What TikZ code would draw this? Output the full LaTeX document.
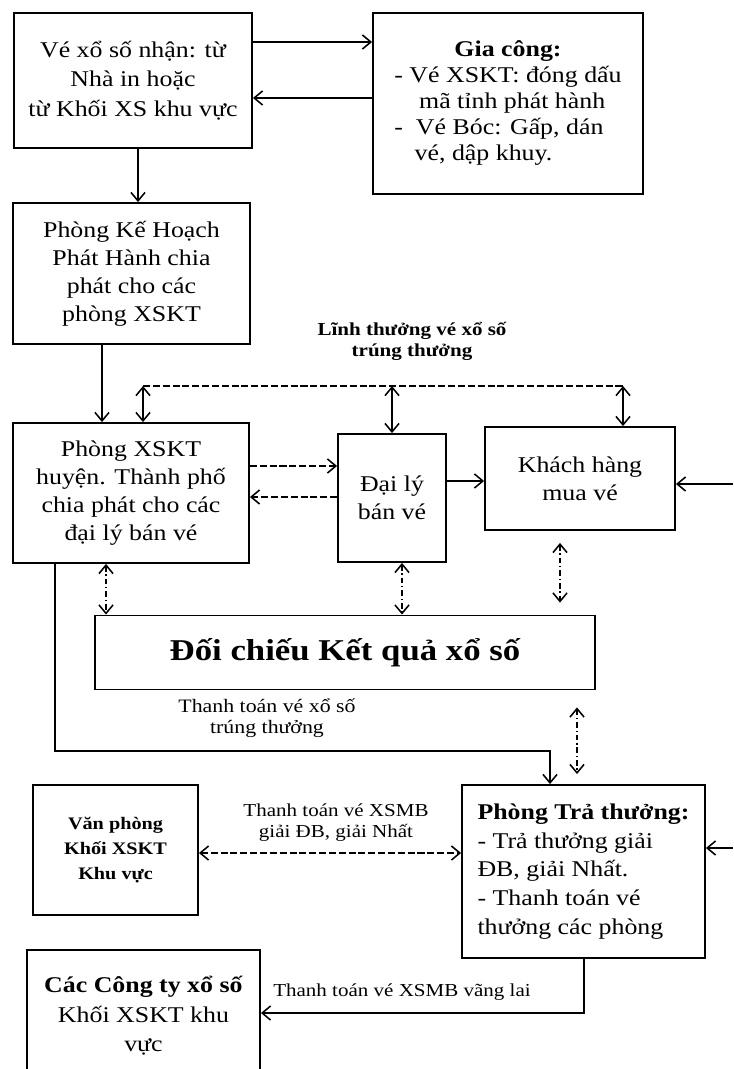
\documentclass[tikz,border=0pt]{standalone}
\usepackage{fontspec}
\setmainfont[FakeStretch=1.15]{Liberation Serif}
\usetikzlibrary{arrows.meta}

\begin{document}
\begin{tikzpicture}[
  x=0.025cm, y=-0.025cm,
  box/.style={draw, line width=1.3pt, align=center, inner sep=2pt,
    font=\fontsize{16}{20}\selectfont},
  lbl/.style={align=center, font=\fontsize{13}{15}\selectfont},
  arr/.style={-{Straight Barb[length=6pt,width=10pt]}, line width=1.1pt},
  dbl/.style={{Straight Barb[length=6pt,width=10pt]}-{Straight Barb[length=6pt,width=10pt]},
    line width=1.1pt},
  dsh/.style={dash pattern=on 5pt off 2pt},
  dd/.style={dash pattern=on 4pt off 2pt on 1pt off 2pt}
]
  \useasboundingbox (0,0) rectangle (733,1069);

  % receiving and processing (top)
  \node[box, minimum width=5.95cm, minimum height=3.375cm,
    font=\fontsize{16}{21}\selectfont] (recv) at (133,80.5)
    {Vé xổ số nhận: từ\\Nhà in hoặc\\từ Khối XS khu vực};
  \node[box, minimum width=6.75cm, minimum height=4.525cm,
    font=\fontsize{16}{18.5}\selectfont] (giacong) at (508,103.5)
    {\begin{tabular}{@{}l@{}}
      \multicolumn{1}{@{}c@{}}{\textbf{Gia công:}}\\
      - Vé XSKT: đóng dấu\\
      \hspace*{1.1em}mã tỉnh phát hành\\
      -\ \ Vé Bóc: Gấp, dán\\
      \hspace*{0.9em}vé, dập khuy.
    \end{tabular}};
  \draw[arr] (recv.east |- 0,42) -- (giacong.west |- 0,42);
  \draw[arr] (giacong.west |- 0,98) -- (recv.east |- 0,98);

  % distribution
  \node[box, minimum width=5.925cm, minimum height=3.525cm] (khoach) at (131.5,273.5)
    {Phòng Kế Hoạch\\Phát Hành chia\\phát cho các\\phòng XSKT};
  \node[box, minimum width=5.9cm, minimum height=3.5cm] (phongxs) at (131,493)
    {Phòng XSKT\\huyện. Thành phố\\chia phát cho các\\đại lý bán vé};
  \node[box, minimum width=2.7cm, minimum height=3.2cm] (daily) at (392,498)
    {Đại lý\\bán vé};
  \node[box, minimum width=4.75cm, minimum height=2.575cm] (khach) at (580,478.5)
    {Khách hàng\\mua vé};
  \draw[arr] (recv.south -| 138,0) -- (khoach.north -| 138,0);
  \draw[arr] (khoach.south -| 102,0) -- (phongxs.north -| 102,0);
  \draw[arr, dsh] (phongxs.east |- 0,466) -- (daily.west |- 0,466);
  \draw[arr, dsh] (daily.west |- 0,497) -- (phongxs.east |- 0,497);
  \draw[arr] (daily.east |- 0,481) -- (khach.west |- 0,481);
  \coordinate (edgeA) at (733,484);
  \draw[arr] (edgeA) -- (khach.east |- edgeA);

  % prize claim loop
  \coordinate (loopL) at (143,386);
  \coordinate (loopR) at (623,386);
  \draw[dsh, line width=1.1pt] (loopL) -- (loopR);
  \draw[dbl] (loopL) -- (loopL |- phongxs.north);
  \draw[dbl] (daily.north |- loopL) -- (daily.north);
  \draw[dbl] (loopR) -- (loopR |- khach.north);
  \node[lbl, font=\fontsize{13}{15}\selectfont\bfseries] (lblLinh) at (412,341)
    {Lĩnh thưởng vé xổ số\\trúng thưởng};

  % checking results
  \node[box, minimum width=12.5cm, minimum height=1.85cm,
    font=\fontsize{21.5}{24}\selectfont\bfseries] (doichieu) at (345,652.5)
    {Đối chiếu Kết quả xổ số};
  \draw[dbl, dd] (phongxs.south -| 106,0) -- (doichieu.north -| 106,0);
  \draw[dbl, dd] (daily.south -| 402,0) -- (doichieu.north -| 402,0);
  \draw[dbl, dd, shorten <=0.3cm, shorten >=0.3cm]
    (khach.south -| 560,0) -- (doichieu.north -| 560,0);

  % payment
  \node[box, minimum width=6.075cm, minimum height=4.325cm, align=left,
    font=\fontsize{16}{20.5}\selectfont] (tra) at (583.5,871.5)
    {\textbf{Phòng Trả thưởng:}\\- Trả thưởng giải\\ĐB, giải Nhất.\\- Thanh toán vé\\thưởng các phòng};
  \node[box, minimum width=4.125cm, minimum height=3.25cm,
    font=\fontsize{12.5}{18}\selectfont\bfseries] (vanphong) at (115.5,850)
    {Văn phòng\\Khối XSKT\\Khu vực};
  \node[box, minimum width=5.825cm, minimum height=3.3cm,
    font=\fontsize{16}{21}\selectfont] (congty) at (143.5,1016)
    {\textbf{Các Công ty xổ số}\\Khối XSKT khu\\vực};
  \draw[dbl, dd, shorten <=0.425cm, shorten >=0.25cm]
    (doichieu.south -| 577,0) -- (tra.north -| 577,0);
  \draw[arr] (phongxs.south -| 55,0) -- (55,751) -| (tra.north -| 550,0);
  \node[lbl, font=\fontsize{13.5}{15}\selectfont] (lblPay) at (267,718)
    {Thanh toán vé xổ số\\trúng thưởng};
  \draw[dbl, dsh] (vanphong.east |- 0,853) -- (tra.west |- 0,853);
  \node[lbl] (lblMB) at (336,823) {Thanh toán vé XSMB\\giải ĐB, giải Nhất};
  \coordinate (edgeB) at (733,848);
  \draw[arr] (edgeB) -- (tra.east |- edgeB);
  \draw[arr] (tra.south -| 584,0) -- (584,1013) -- (congty.east |- 0,1013);
  \node[lbl] (lblVang) at (402,992) {Thanh toán vé XSMB vãng lai};
\end{tikzpicture}
\end{document}
